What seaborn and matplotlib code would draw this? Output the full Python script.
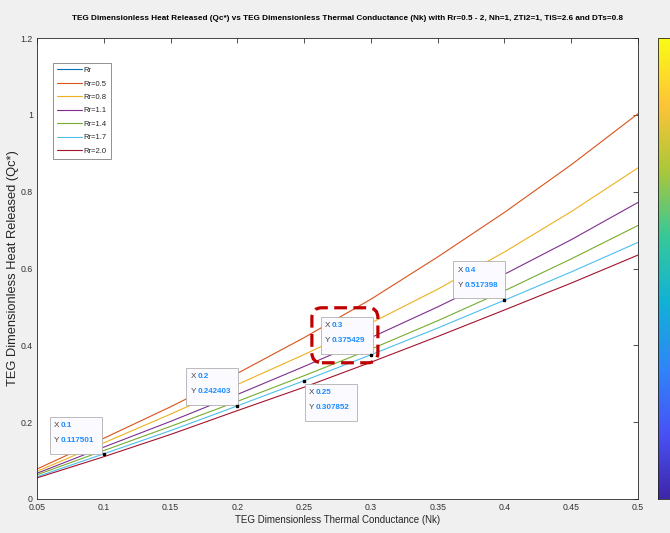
import numpy as np
import pandas as pd
import matplotlib
matplotlib.use("Agg")
import matplotlib.pyplot as plt
import matplotlib.transforms as mtrans
from matplotlib.patches import Rectangle, FancyBboxPatch
from matplotlib.lines import Line2D
from matplotlib.colors import LinearSegmentedColormap
import seaborn as sns

# ---------------- data ----------------
nk = [0.05, 0.10, 0.15, 0.20, 0.25, 0.30, 0.35, 0.40, 0.45, 0.50]
qc_rr05 = [0.078, 0.158, 0.240, 0.327, 0.420, 0.520, 0.630, 0.746, 0.870, 1.003]
qc_rr08 = [0.072, 0.146, 0.221, 0.298, 0.376, 0.458, 0.546, 0.643, 0.748, 0.862]
qc_rr11 = [0.067, 0.135, 0.202, 0.272, 0.345, 0.420, 0.500, 0.585, 0.675, 0.772]
qc_rr14 = [0.063, 0.126, 0.189, 0.254, 0.321, 0.390, 0.464, 0.542, 0.625, 0.712]
qc_rr17 = [0.058, 0.1175, 0.178, 0.2424, 0.3079, 0.3754, 0.445, 0.5174, 0.591, 0.668]
qc_rr20 = [0.055, 0.110, 0.168, 0.230, 0.291, 0.356, 0.423, 0.492, 0.562, 0.635]

series_labels = ["Rr=0.5", "Rr=0.8", "Rr=1.1", "Rr=1.4", "Rr=1.7", "Rr=2.0"]
series_values = [qc_rr05, qc_rr08, qc_rr11, qc_rr14, qc_rr17, qc_rr20]
legend_labels = ["Rr"] + series_labels

tip_x = [0.1, 0.2, 0.25, 0.3, 0.4]
tip_y = [0.117501, 0.242403, 0.307852, 0.375429, 0.517398]
tip_xtxt = ["0.1", "0.2", "0.25", "0.3", "0.4"]
tip_ytxt = ["0.117501", "0.242403", "0.307852", "0.375429", "0.517398"]

xticks = [0.05, 0.1, 0.15, 0.2, 0.25, 0.3, 0.35, 0.4, 0.45, 0.5]
xtick_labels = ["0.05", "0.1", "0.15", "0.2", "0.25", "0.3", "0.35", "0.4", "0.45", "0.5"]
yticks = [0, 0.2, 0.4, 0.6, 0.8, 1.0, 1.2]
ytick_labels = ["0", "0.2", "0.4", "0.6", "0.8", "1", "1.2"]

title = ("TEG Dimensionless Heat Released (Qc*) vs TEG Dimensionless Thermal "
         "Conductance (Nk) with Rr=0.5 - 2, Nh=1, ZTi2=1, TiS=2.6 and DTs=0.8")
xlabel = "TEG Dimensionless Thermal Conductance (Nk)"
ylabel = "TEG Dimensionless Heat Released (Qc*)"

# ---------------- style ----------------
sns.set_theme(style="white")
plt.rcParams["font.family"] = ["Liberation Sans", "DejaVu Sans"]

matlab_colors = ["#0072BD", "#D95319", "#EDB120", "#7E2F8E",
                 "#77AC30", "#4DBEEE", "#A2142F"]
line_colors = matlab_colors[1:]

rows = []
for lab, vals in zip(series_labels, series_values):
    for x, y in zip(nk, vals):
        rows.append({"Nk": x, "Qc": y, "Rr": lab})
df = pd.DataFrame(rows)

fig = plt.figure(figsize=(6.7, 5.33), dpi=100)
fig.patch.set_facecolor("#f0f0f0")
ax = fig.add_axes([37 / 670, 34 / 533, 601 / 670, 461 / 533])
ax.set_facecolor("white")

sns.lineplot(data=df, x="Nk", y="Qc", hue="Rr", hue_order=series_labels,
             palette=line_colors, linewidth=0.8, legend=False, ax=ax)

ax.set_xlim(0.05, 0.5)
ax.set_ylim(0, 1.2)
ax.set_xticks(xticks)
ax.set_xticklabels(xtick_labels)
ax.set_yticks(yticks)
ax.set_yticklabels(ytick_labels)
ax.tick_params(direction="in", length=3.5, width=0.6, top=True, right=True,
               labelsize=6.3, colors="#333333", pad=3)
for s in ax.spines.values():
    s.set_color("#262626")
    s.set_linewidth(0.6)
ax.set_xlabel(xlabel, fontsize=7, color="#262626", labelpad=2)
ax.set_ylabel(ylabel, fontsize=9.3, color="#262626")
ax.yaxis.set_label_coords(-0.0305, 0.5)
ax.set_title(title, fontsize=5.9, fontweight="bold", color="black", pad=13,
             x=0.517)

# legend
handles = [Line2D([], [], color=c, lw=0.8) for c in matlab_colors]
leg = ax.legend(handles, legend_labels, loc="upper left",
                bbox_to_anchor=(0.027, 0.946), fontsize=5.5, frameon=True,
                fancybox=False, framealpha=1, edgecolor="#666666",
                handlelength=3.3, handletextpad=0.2, labelspacing=0.8,
                borderpad=0.5, borderaxespad=0)
leg.get_frame().set_linewidth(0.5)
for t in leg.get_texts():
    t.set_color("#262626")

# data tips
box_offsets = [(-54, 0), (-51, 1), (1, -40), (-50, 1), (-51, 2)]
BW, BH = 52, 37
for xd, yd, xs, ys, (ox, oy) in zip(tip_x, tip_y, tip_xtxt, tip_ytxt, box_offsets):
    tr = fig.dpi_scale_trans + mtrans.ScaledTranslation(xd, yd, ax.transData)
    p = 1 / 100.0
    ax.add_patch(Rectangle((ox * p, oy * p), BW * p, BH * p, transform=tr,
                           facecolor="#fbfbff", edgecolor="#b0b0b0",
                           linewidth=0.6, zorder=5, clip_on=False))
    for k, (lab, val) in enumerate([("X", xs), ("Y", ys)]):
        ty = (oy + BH - 9 - 15 * k) * p
        ax.text((ox + 4) * p, ty, lab, transform=tr, fontsize=5.9,
                color="#404040", va="center", ha="left", zorder=6)
        ax.text((ox + 11) * p, ty, val, transform=tr, fontsize=5.8,
                color="#1a8cff", fontweight="bold", va="center", ha="left",
                zorder=6)
    ax.plot([xd], [yd], marker="s", markersize=2, color="black", zorder=7,
            clip_on=False)

# red dashed highlight round the x=0.3 tip
tr3 = fig.dpi_scale_trans + mtrans.ScaledTranslation(tip_x[3], tip_y[3], ax.transData)
hl = FancyBboxPatch((-59 / 100, -8 / 100), 66 / 100, 55 / 100,
                    boxstyle="round,pad=0,rounding_size=0.1", transform=tr3,
                    facecolor="none", edgecolor="#c00000", linewidth=2.3,
                    linestyle=(0, (4, 2)), zorder=8, clip_on=False)
ax.add_patch(hl)

# colorbar (parula-like)
parula = LinearSegmentedColormap.from_list("parula", [
    (0.2422, 0.1504, 0.6603), (0.2810, 0.3228, 0.9579),
    (0.1786, 0.5289, 0.9682), (0.0689, 0.6948, 0.8394),
    (0.2161, 0.7843, 0.5923), (0.6720, 0.7793, 0.2227),
    (0.9970, 0.7659, 0.2199), (0.9769, 0.9839, 0.0805)])
cax = fig.add_axes([658 / 670, 34 / 533, 22 / 670, 461 / 533])
sm = plt.cm.ScalarMappable(cmap=parula, norm=plt.Normalize(0, 1))
cb = fig.colorbar(sm, cax=cax)
cb.outline.set_linewidth(0.6)
cb.outline.set_edgecolor("#262626")
cax.tick_params(direction="in", length=3, labelsize=0, colors="#262626")
cax.set_yticks(np.linspace(0, 1, 11))
cax.set_yticklabels([])

fig.savefig("out.png", dpi=100, facecolor=fig.get_facecolor())
